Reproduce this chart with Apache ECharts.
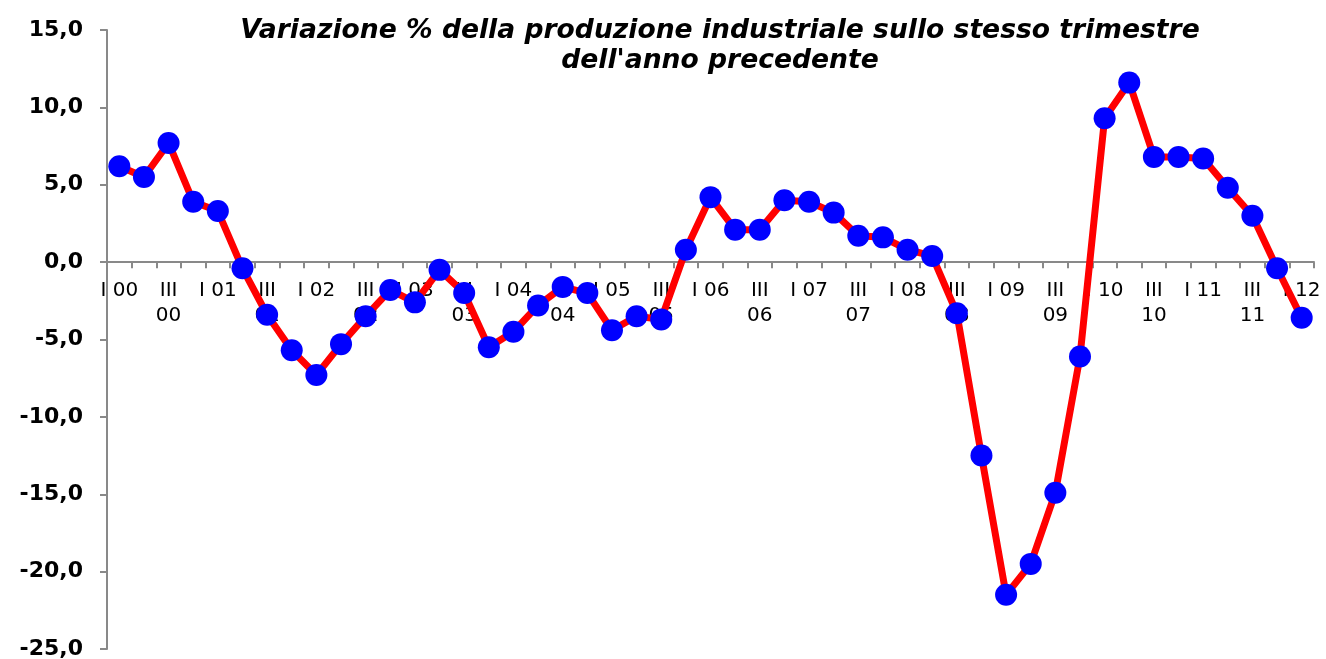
<!DOCTYPE html>
<html>
<head>
<meta charset="utf-8">
<script src="https://cdn.jsdelivr.net/npm/echarts@6/dist/echarts.min.js"></script>
<style>
  html, body { margin: 0; padding: 0; background: #fff; }
  #chart { width: 1326px; height: 659px; }
</style>
</head>
<body>
<div id="chart"></div>
<script>
  // trimestri I 00 .. I 12
  var quarters = [
    'I 00', 'II 00', 'III 00', 'IV 00',
    'I 01', 'II 01', 'III 01', 'IV 01',
    'I 02', 'II 02', 'III 02', 'IV 02',
    'I 03', 'II 03', 'III 03', 'IV 03',
    'I 04', 'II 04', 'III 04', 'IV 04',
    'I 05', 'II 05', 'III 05', 'IV 05',
    'I 06', 'II 06', 'III 06', 'IV 06',
    'I 07', 'II 07', 'III 07', 'IV 07',
    'I 08', 'II 08', 'III 08', 'IV 08',
    'I 09', 'II 09', 'III 09', 'IV 09',
    'I 10', 'II 10', 'III 10', 'IV 10',
    'I 11', 'II 11', 'III 11', 'IV 11',
    'I 12'
  ];

  // variazione % sullo stesso trimestre dell'anno precedente
  var variazione = [
    6.2, 5.5, 7.7, 3.9,
    3.3, -0.4, -3.4, -5.7,
    -7.3, -5.3, -3.5, -1.8,
    -2.6, -0.5, -2.0, -5.5,
    -4.5, -2.8, -1.6, -2.0,
    -4.4, -3.5, -3.7, 0.8,
    4.2, 2.1, 2.1, 4.0,
    3.9, 3.2, 1.7, 1.6,
    0.8, 0.4, -3.3, -12.5,
    -21.5, -19.5, -14.9, -6.1,
    9.3, 11.6, 6.8, 6.8,
    6.7, 4.8, 3.0, -0.4,
    -3.6
  ];

  var yTicks = { min: -25, max: 15, interval: 5 };

  var titleText = "Variazione % della produzione industriale sullo stesso trimestre\ndell'anno precedente";

  var myChart = echarts.init(document.getElementById('chart'));

  var option = {
    animation: false,
    backgroundColor: '#fff',
    title: {
      text: titleText,
      left: 715,
      top: 11,
      textAlign: 'center',
      textStyle: {
        fontFamily: 'DejaVu Sans',
        fontSize: 26.6,
        fontWeight: 'bold',
        fontStyle: 'italic',
        lineHeight: 30,
        color: '#000'
      }
    },
    grid: {
      left: 107,
      right: 12,
      top: 30,
      bottom: 10,
      containLabel: false,
      outerBoundsMode: 'none'
    },
    xAxis: {
      type: 'category',
      data: quarters,
      boundaryGap: true,
      offset: 0,
      axisLine: {
        onZero: false,
        lineStyle: { color: '#898989', width: 2 }
      },
      axisTick: {
        show: true,
        interval: 0,
        length: 6,
        lineStyle: { color: '#898989', width: 2 }
      },
      axisLabel: {
        interval: 1,
        margin: 16,
        color: '#000',
        fontFamily: 'DejaVu Sans',
        fontSize: 20,
        lineHeight: 25,
        formatter: function (v) {
          // le etichette "III xx" vanno a capo come nell'originale
          if (v.indexOf('III ') === 0) return v.replace(' ', '\n');
          return v;
        }
      },
      splitLine: { show: false }
    },
    yAxis: {
      type: 'value',
      min: yTicks.min,
      max: yTicks.max,
      interval: yTicks.interval,
      axisLine: {
        show: true,
        lineStyle: { color: '#898989', width: 2 }
      },
      axisTick: {
        show: true,
        length: 7,
        lineStyle: { color: '#898989', width: 2 }
      },
      axisLabel: {
        margin: 24,
        color: '#000',
        fontFamily: 'DejaVu Sans',
        fontSize: 22,
        fontWeight: 'bold',
        formatter: function (v) {
          return v.toFixed(1).replace('.', ',');
        }
      },
      splitLine: { show: false }
    },
    series: [
      {
        name: 'Variazione %',
        type: 'line',
        data: variazione,
        symbol: 'circle',
        symbolSize: 22,
        showAllSymbol: true,
        lineStyle: { color: '#ff0000', width: 7 },
        itemStyle: { color: '#0000ff' },
        emphasis: { disabled: true }
      }
    ]
  };

  myChart.setOption(option);

  // porta l'asse delle categorie (linea, tacche ed etichette) sullo zero
  var zeroY = myChart.convertToPixel({ yAxisIndex: 0 }, 0);
  var bottomY = myChart.convertToPixel({ yAxisIndex: 0 }, yTicks.min);
  myChart.setOption({ xAxis: { offset: zeroY - bottomY } });
</script>
</body>
</html>
